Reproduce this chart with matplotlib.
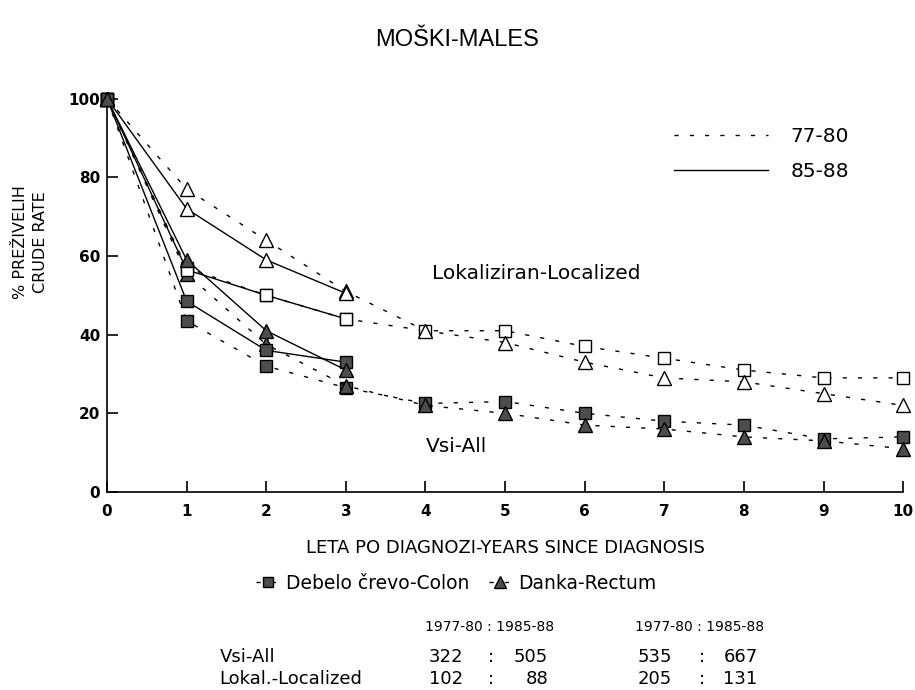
import matplotlib
matplotlib.use("Agg")
import matplotlib.pyplot as plt
from matplotlib.lines import Line2D

plt.rcParams['font.family'] = ['DejaVu Sans']

years = list(range(0, 11))
years_new = list(range(0, 4))

# 77-80 (dotted), followed for 10 years
colon_all_7780 = [100, 43.5, 32, 26.5, 22.5, 23, 20, 18, 17, 13.5, 14]
rectum_all_7780 = [100, 55.5, 37.5, 27, 22, 20, 17, 16, 14, 13, 11]
colon_loc_7780 = [100, 57, 50, 44, 41, 41, 37, 34, 31, 29, 29]
rectum_loc_7780 = [100, 77, 64, 51, 41, 38, 33, 29, 28, 25, 22]

# 85-88 (solid), followed for 3 years
colon_all_8588 = [100, 48.5, 36, 33]
rectum_all_8588 = [100, 59, 41, 31]
colon_loc_8588 = [100, 56.5, 50, 44]
rectum_loc_8588 = [100, 72, 59, 50.5]

table_head = "1977-80 : 1985-88"
row_names = ["Vsi-All", "Lokal.-Localized"]
colon_n = [("322", "505"), ("102", "88")]
rectum_n = [("535", "667"), ("205", "131")]

fill = '#4d4d4d'
dots = (0, (3, 8))

fig = plt.figure(figsize=(9.15, 6.9), dpi=100)
ax = fig.add_axes([0.117, 0.287, 0.870, 0.570])

def draw(x, y, marker, filled, ls, ms):
    fc = fill if filled else 'white'
    ax.plot(x, y, color='black', lw=1.0, linestyle=ls, marker=marker,
            markersize=ms, markerfacecolor=fc, markeredgecolor='black',
            markeredgewidth=1.0, clip_on=False, zorder=3)

draw(years, colon_loc_7780, 's', False, dots, 8)
draw(years, rectum_loc_7780, '^', False, dots, 10)
draw(years, colon_all_7780, 's', True, dots, 8)
draw(years, rectum_all_7780, '^', True, dots, 10)
draw(years_new, colon_loc_8588, 's', False, '-', 8)
draw(years_new, rectum_loc_8588, '^', False, '-', 10)
draw(years_new, colon_all_8588, 's', True, '-', 8)
draw(years_new, rectum_all_8588, '^', True, '-', 10)

ax.set_xlim(0, 10)
ax.set_ylim(0, 100)
ax.set_xticks(years)
ax.set_yticks([0, 20, 40, 60, 80, 100])
for s in ['top', 'right']:
    ax.spines[s].set_visible(False)
ax.spines['left'].set_linewidth(1.2)
ax.spines['bottom'].set_linewidth(1.2)
ax.tick_params(direction='in', length=8, width=1.2, labelsize=11)
ax.tick_params(axis='y', pad=5)
ax.tick_params(axis='x', pad=9)
for lab in ax.get_xticklabels() + ax.get_yticklabels():
    lab.set_fontweight('bold')

ax.text(4.08, 55.5, "Lokaliziran-Localized", fontsize=14.5, va='center')
ax.text(4.0, 11.5, "Vsi-All", fontsize=14.5, va='center')

ax.set_xlabel("LETA PO DIAGNOZI-YEARS SINCE DIAGNOSIS", fontsize=13, labelpad=14)
ax.set_ylabel("% PREŽIVELIH\nCRUDE RATE", fontsize=11.5, linespacing=1.4)
ax.yaxis.set_label_coords(-0.074, 0.635)

period_handles = [Line2D([], [], color='black', lw=1.0, linestyle=dots),
                  Line2D([], [], color='black', lw=1.0, linestyle='-')]
ax.legend(period_handles, ["77-80", "85-88"], loc='upper right',
          bbox_to_anchor=(0.955, 0.975), frameon=False, handlelength=4.7,
          handletextpad=1.1, labelspacing=0.8, fontsize=14.5)

fig.suptitle("MOŠKI-MALES", y=0.958, fontsize=17,
             family=['Liberation Sans', 'DejaVu Sans'])

site_handles = [Line2D([], [], color='black', lw=1.0, linestyle=dots, marker='s',
                       markersize=7, markerfacecolor=fill),
                Line2D([], [], color='black', lw=1.0, linestyle=dots, marker='^',
                       markersize=8, markerfacecolor=fill)]
fig.legend(site_handles, ["Debelo črevo-Colon", "Danka-Rectum"], loc='center',
           bbox_to_anchor=(0.499, 0.155), ncol=2, frameon=False, handlelength=1.2,
           handletextpad=0.4, columnspacing=1.0, fontsize=13.5)

# sample sizes table
fig.text(0.535, 0.091, table_head, fontsize=10, ha='center', va='center')
fig.text(0.765, 0.091, table_head, fontsize=10, ha='center', va='center')
row_y = [0.048, 0.016]
for i, name in enumerate(row_names):
    fig.text(0.240, row_y[i], name, fontsize=13, va='center')
    fig.text(0.487, row_y[i], colon_n[i][0], fontsize=13, ha='center', va='center')
    fig.text(0.536, row_y[i], ":", fontsize=13, ha='center', va='center')
    fig.text(0.599, row_y[i], colon_n[i][1], fontsize=13, ha='right', va='center')
    fig.text(0.716, row_y[i], rectum_n[i][0], fontsize=13, ha='center', va='center')
    fig.text(0.767, row_y[i], ":", fontsize=13, ha='center', va='center')
    fig.text(0.828, row_y[i], rectum_n[i][1], fontsize=13, ha='right', va='center')

fig.savefig("out.png", dpi=100)
